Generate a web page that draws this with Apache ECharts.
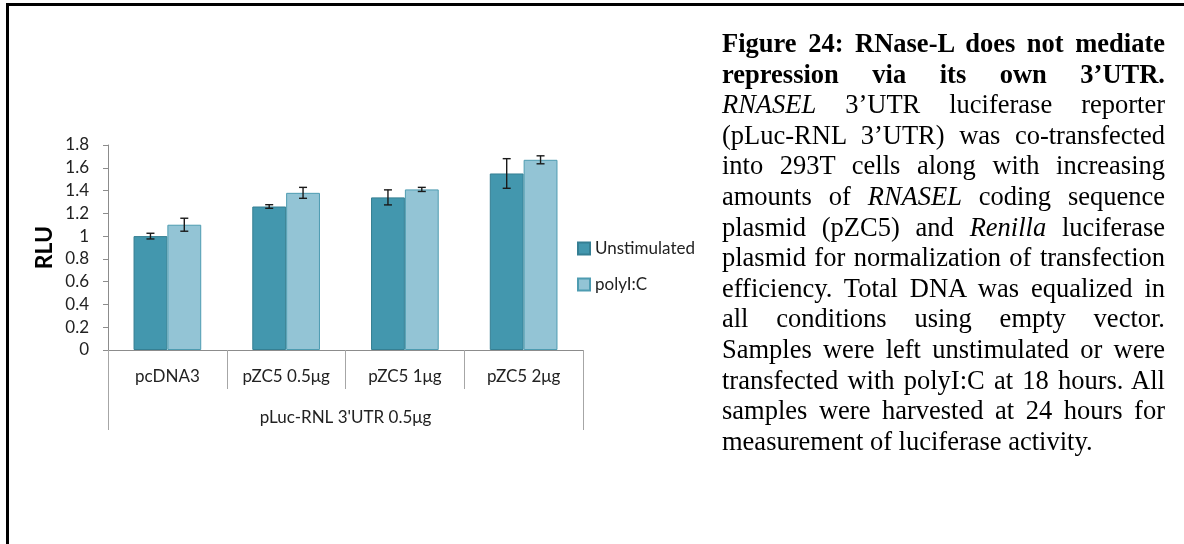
<!DOCTYPE html>
<html>
<head>
<meta charset="utf-8">
<script src="https://cdn.jsdelivr.net/npm/echarts@6/dist/echarts.min.js"></script>
<style>
  html, body { margin: 0; padding: 0; background: #fff; }
  body { width: 1184px; height: 544px; position: relative; overflow: hidden; }
  #frame {
    position: absolute; left: 6px; top: 3px; width: 1300px; height: 700px;
    border-left: 3px solid #000; border-top: 3px solid #000;
  }
  #chart { position: absolute; left: 0; top: 0; width: 1184px; height: 544px; }
  #caption {
    position: absolute; left: 722px; top: 28px; width: 443px;
    font-family: "Liberation Serif", "Times New Roman", serif;
    font-size: 26.5px; line-height: 30.6px; color: #000;
  }
  #caption .j { text-align: justify; text-align-last: justify; }
  #caption b { font-weight: bold; }
</style>
</head>
<body>
<div id="frame"></div>
<div id="chart"></div>
<div id="caption">
  <div class="j"><b>Figure 24: RNase-L does not mediate</b></div>
  <div class="j"><b>repression via its own 3’UTR.</b></div>
  <div class="j"><i>RNASEL</i> 3’UTR luciferase reporter</div>
  <div class="j">(pLuc-RNL 3’UTR) was co-transfected</div>
  <div class="j">into 293T cells along with increasing</div>
  <div class="j">amounts of <i>RNASEL</i> coding sequence</div>
  <div class="j">plasmid (pZC5) and <i>Renilla</i> luciferase</div>
  <div class="j">plasmid for normalization of transfection</div>
  <div class="j">efficiency. Total DNA was equalized in</div>
  <div class="j">all conditions using empty vector.</div>
  <div class="j">Samples were left unstimulated or were</div>
  <div class="j">transfected with polyI:C at 18 hours. All</div>
  <div class="j">samples were harvested at 24 hours for</div>
  <div>measurement of luciferase activity.</div>
</div>
<script>
// 数据
const categories = ['pcDNA3', 'pZC5 0.5μg', 'pZC5 1μg', 'pZC5 2μg'];
const groupLabel = ["pLuc-RNL 3'UTR 0.5μg"];
const unstimulated = [1.0, 1.26, 1.34, 1.55];
const unstimulatedErr = [0.025, 0.016, 0.066, 0.13];
const polyIC = [1.10, 1.38, 1.41, 1.67];
const polyICErr = [0.057, 0.048, 0.018, 0.035];
const yTicks = { min: 0, max: 1.8, interval: 0.2 };

const catGap = 0.43; // barCategoryGap
const labelFont = 'Lato, "Noto Sans", sans-serif';

// 误差线
function errorSeries(name, values, errs, side) {
  return {
    name: name,
    type: 'custom',
    xAxisIndex: 0,
    z: 5,
    silent: true,
    data: values.map((v, i) => [i, v - errs[i], v + errs[i]]),
    renderItem: function (params, api) {
      const band = api.size([1, 0])[0];
      const barW = band * (1 - catGap) / 2;
      const lo = api.coord([api.value(0), api.value(1)]);
      const hi = api.coord([api.value(0), api.value(2)]);
      const x = lo[0] + side * barW / 2;
      const cap = 4;
      const style = { stroke: '#1a1a1a', lineWidth: 1.4 };
      return {
        type: 'group',
        children: [
          { type: 'line', shape: { x1: x, y1: lo[1], x2: x, y2: hi[1] }, style: style },
          { type: 'line', shape: { x1: x - cap, y1: lo[1], x2: x + cap, y2: lo[1] }, style: style },
          { type: 'line', shape: { x1: x - cap, y1: hi[1], x2: x + cap, y2: hi[1] }, style: style }
        ]
      };
    }
  };
}

const myechart = echarts.init(document.getElementById('chart'), null, { renderer: 'canvas' });
const option = {
  animation: false,
  grid: { left: 108, top: 145, width: 475, height: 205, containLabel: false },
  legend: {
    orient: 'vertical',
    left: 577,
    top: 240,
    padding: 0,
    itemWidth: 12,
    itemHeight: 12,
    itemGap: 19,
    icon: 'rect',
    data: ['Unstimulated', 'polyI:C'],
    textStyle: { fontFamily: labelFont, fontSize: 17, color: '#222', lineHeight: 16 }
  },
  xAxis: [
    {
      type: 'category',
      data: categories,
      axisLine: { show: true, lineStyle: { color: '#8c8c8c', width: 1 } },
      axisTick: { show: true, alignWithLabel: false, length: 39, lineStyle: { color: '#a6a6a6' } },
      axisLabel: { margin: 18, fontFamily: labelFont, fontSize: 17, color: '#222' },
      splitLine: { show: false }
    },
    {
      type: 'category',
      position: 'bottom',
      data: groupLabel,
      axisLine: { show: false },
      axisTick: { show: true, alignWithLabel: false, length: 80, lineStyle: { color: '#a6a6a6' } },
      axisLabel: { margin: 59, fontFamily: labelFont, fontSize: 17, color: '#222' },
      splitLine: { show: false }
    }
  ],
  yAxis: {
    type: 'value',
    min: yTicks.min,
    max: yTicks.max,
    interval: yTicks.interval,
    name: 'RLU',
    nameLocation: 'middle',
    nameRotate: 90,
    nameGap: 52,
    nameTextStyle: { fontFamily: labelFont, fontSize: 23, fontWeight: 'bold', color: '#000' },
    axisLine: { show: true, lineStyle: { color: '#8c8c8c' } },
    axisTick: { show: true, length: 5, lineStyle: { color: '#8c8c8c' } },
    axisLabel: { margin: 19, fontFamily: labelFont, fontSize: 17, color: '#222' },
    splitLine: { show: false }
  },
  series: [
    {
      name: 'Unstimulated',
      type: 'bar',
      data: unstimulated,
      barGap: '0%',
      barCategoryGap: (catGap * 100) + '%',
      itemStyle: { color: '#4397ae', borderColor: '#357f93', borderWidth: 1 }
    },
    {
      name: 'polyI:C',
      type: 'bar',
      data: polyIC,
      itemStyle: { color: '#93c4d5', borderColor: '#4e9cb1', borderWidth: 1 }
    },
    errorSeries('Unstimulated err', unstimulated, unstimulatedErr, -1),
    errorSeries('polyI:C err', polyIC, polyICErr, 1)
  ]
};
myechart.setOption(option);
</script>
</body>
</html>
